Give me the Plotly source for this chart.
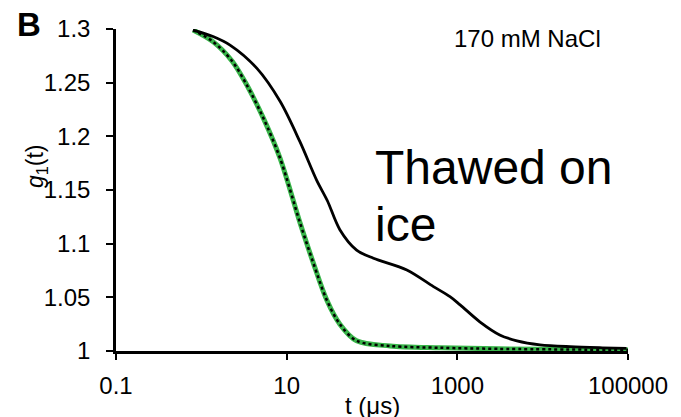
import plotly.graph_objects as go

# Data
t_thawed = [0.8, 1.37, 2.17, 4.46, 8.4, 14.3, 22.5, 30, 42, 66, 104, 256,
            525, 820, 1078, 1850, 3140, 5000, 9300, 21000, 50000, 96000]
g_thawed = [1.299, 1.293, 1.285, 1.2635, 1.2324, 1.195, 1.159, 1.140, 1.113,
            1.094, 1.0864, 1.0755, 1.060, 1.0506, 1.043, 1.027, 1.015, 1.0095,
            1.0058, 1.004, 1.003, 1.0025]

t_fresh = [0.8, 1.38, 2.3, 3.4, 5.33, 8.37, 14.4, 20.6, 29.5, 42, 66,
           163, 630, 3000, 100000]
g_fresh = [1.299, 1.288, 1.27, 1.248, 1.217, 1.1796, 1.119, 1.0817,
           1.0475, 1.025, 1.0095, 1.0047, 1.003, 1.002, 1.001]

x_tickvals = [0.1, 10, 1000, 100000]
x_ticktext = ["0.1", "10", "1000", "100000"]
y_tickvals = [1, 1.05, 1.1, 1.15, 1.2, 1.25, 1.3]
y_ticktext = ["1", "1.05", "1.1", "1.15", "1.2", "1.25", "1.3"]

FONT = "Arial, Liberation Sans, sans-serif"

fig = go.Figure()
fig.add_trace(go.Scatter(x=t_fresh, y=g_fresh, mode="lines",
                         line=dict(color="#39b54a", width=5, shape="spline", smoothing=0.9),
                         showlegend=False))
fig.add_trace(go.Scatter(x=t_fresh, y=g_fresh, mode="lines",
                         line=dict(color="black", width=2.5, dash="dot", shape="spline",
                                   smoothing=0.9),
                         showlegend=False))
fig.add_trace(go.Scatter(x=t_thawed, y=g_thawed, mode="lines",
                         line=dict(color="black", width=2.8, shape="spline", smoothing=0.9),
                         showlegend=False))

L, R, T, B = 116, 53, 29, 66
W, H = 681, 417
pw, ph = W - L - R, H - T - B

def px(x):
    return (x - L) / pw

def py(y):
    return (H - B - y) / ph

fig.update_layout(
    width=W, height=H,
    margin=dict(l=L, r=R, t=T, b=B),
    paper_bgcolor="white", plot_bgcolor="white",
    font=dict(family=FONT, size=24, color="black"),
    xaxis=dict(type="log", range=[-1, 5], tickvals=x_tickvals, ticktext=x_ticktext,
               showline=True, linecolor="black", linewidth=2.5, showgrid=False,
               zeroline=False, ticks="outside", ticklen=6, tickwidth=2,
               tickcolor="black", ticklabelstandoff=5,
               tickfont=dict(family=FONT, size=24, color="black")),
    yaxis=dict(range=[1, 1.3], tickvals=y_tickvals, ticktext=y_ticktext,
               showline=True, linecolor="black", linewidth=2.5, showgrid=False,
               zeroline=False, ticks="outside", ticklen=7, tickwidth=2,
               tickcolor="black", ticklabelstandoff=11,
               tickfont=dict(family=FONT, size=24, color="black")),
    annotations=[
        dict(text="<b>B</b>", x=px(29), y=py(25), xref="paper", yref="paper",
             showarrow=False, xanchor="center", yanchor="middle",
             font=dict(family=FONT, size=33, color="black")),
        dict(text="170 mM NaCl", x=px(527), y=py(38), xref="paper", yref="paper",
             showarrow=False, xanchor="center", yanchor="middle",
             font=dict(family=FONT, size=24, color="black")),
        dict(text="Thawed on", x=px(373), y=py(167), xref="paper", yref="paper",
             showarrow=False, xanchor="left", yanchor="middle",
             font=dict(family=FONT, size=48, color="black")),
        dict(text="ice", x=px(373), y=py(224), xref="paper", yref="paper",
             showarrow=False, xanchor="left", yanchor="middle",
             font=dict(family=FONT, size=48, color="black")),
        dict(text="<i>g</i><sub>1</sub>(t)", x=px(36), y=py(167), xref="paper",
             yref="paper", showarrow=False, xanchor="center", yanchor="middle",
             textangle=-90, font=dict(family=FONT, size=23, color="black")),
        dict(text="t (\u03bcs)", x=px(372), y=py(405), xref="paper", yref="paper",
             showarrow=False, xanchor="center", yanchor="middle",
             font=dict(family=FONT, size=24, color="black")),
    ],
)

fig.write_html("out.html", config={"displayModeBar": False},
               post_script="document.body.style.margin='0';")
